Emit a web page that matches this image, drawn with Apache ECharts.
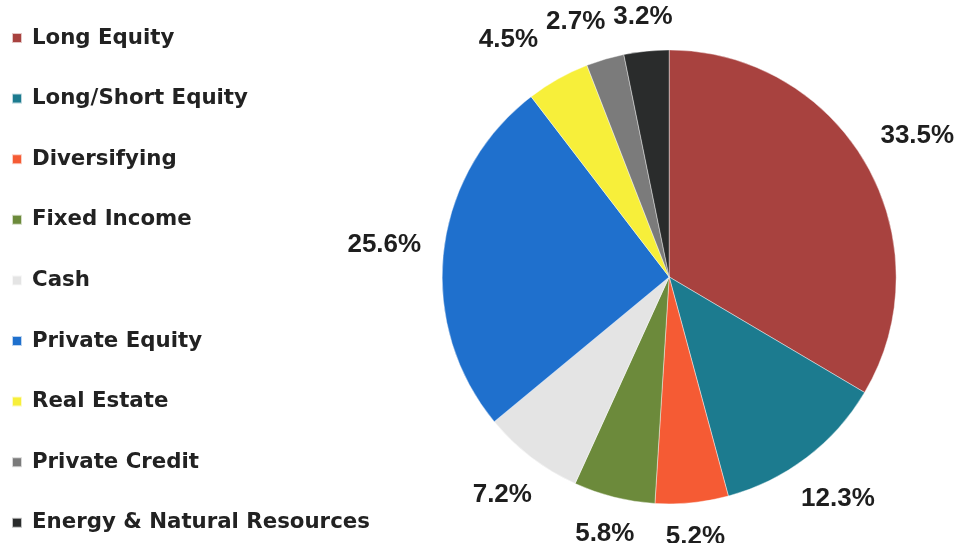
<!DOCTYPE html>
<html>
<head>
<meta charset="utf-8">
<title>Asset Allocation</title>
<script src="https://cdn.jsdelivr.net/npm/echarts@6/dist/echarts.min.js"></script>
<style>
  html, body { margin: 0; padding: 0; background: #ffffff; }
  #chart { width: 967px; height: 543px; }
</style>
</head>
<body>
<div id="chart"></div>
<script>
// Allocation by asset class (percent of total)
const categories = [
  'Long Equity',
  'Long/Short Equity',
  'Diversifying',
  'Fixed Income',
  'Cash',
  'Private Equity',
  'Real Estate',
  'Private Credit',
  'Energy & Natural Resources'
];
const allocation = [33.5, 12.3, 5.2, 5.8, 7.2, 25.6, 4.5, 2.7, 3.2];
const sliceColors = [
  '#a8423f', '#1c7b8f', '#f55b34', '#6c8a3b', '#e4e4e4',
  '#1f70cd', '#f7ef3a', '#7b7b7b', '#2a2c2c'
];

// Pie geometry
const PIE_CENTER = [0.692, 0.51];
const PIE_RADIUS = 227;
const LABEL_GAP = 22;
const LABEL_PAD = 8;

const chart = echarts.init(document.getElementById('chart'), null, { renderer: 'canvas' });

// Push a value label outward along its slice's bisector so the label box
// sits a fixed gap beyond the rim of the pie.
function outsidePosition(rect) {
  const cx = chart.getWidth() * PIE_CENTER[0];
  const cy = chart.getHeight() * PIE_CENTER[1];
  const lx = rect.x + rect.width / 2;
  const ly = rect.y + rect.height / 2;
  let dx = lx - cx, dy = ly - cy;
  const len = Math.sqrt(dx * dx + dy * dy) || 1;
  dx /= len; dy /= len;
  const half = (rect.width / 2) * Math.abs(dx) + (rect.height * 0.36) * Math.abs(dy);
  const dist = PIE_RADIUS + LABEL_GAP + half;
  return { x: cx + dx * dist, y: cy + dy * dist, w: rect.width, h: rect.height };
}

// Walk the labels counter-clockwise and slide any label that collides with
// its clockwise neighbour sideways, away from it.
function resolveOverlaps(boxes) {
  for (let i = boxes.length - 2; i >= 0; i--) {
    const a = boxes[i], b = boxes[i + 1];
    if (!a || !b) continue;
    const overlapY = (a.h * 0.75 + b.h * 0.75) / 2 - Math.abs(a.y - b.y);
    const overlapX = (a.w + b.w) / 2 - Math.abs(a.x - b.x);
    if (overlapY > 0 && overlapX > -LABEL_PAD) {
      const dir = a.x <= b.x ? -1 : 1;
      a.x += dir * (overlapX + LABEL_PAD);
    }
  }
  return boxes;
}

let placed = [];

function buildOption(layoutFn) {
  return {
    backgroundColor: '#ffffff',
    animation: false,
    color: sliceColors,
    legend: {
      orient: 'vertical',
      left: 6,
      top: 21,
      itemWidth: 10,
      itemHeight: 10,
      itemGap: 36.6,
      icon: 'rect',
      selectedMode: false,
      data: categories,
      textStyle: {
        fontFamily: 'DejaVu Sans',
        fontWeight: 'bold',
        fontSize: 21.3,
        lineHeight: 24,
        color: '#222222',
        padding: [0, 0, 0, 5]
      }
    },
    series: [{
      type: 'pie',
      center: [(PIE_CENTER[0] * 100) + '%', (PIE_CENTER[1] * 100) + '%'],
      radius: [0, PIE_RADIUS],
      startAngle: 90,
      clockwise: true,
      avoidLabelOverlap: false,
      silent: true,
      itemStyle: {
        borderColor: 'rgba(255,255,255,0.7)',
        borderWidth: 0.6
      },
      label: {
        show: true,
        position: 'inside',
        formatter: function (p) { return p.value.toFixed(1) + '%'; },
        fontFamily: 'Liberation Sans, Arial, sans-serif',
        fontWeight: 'bold',
        fontSize: 26,
        color: '#1e1e1e'
      },
      labelLine: { show: false },
      labelLayout: layoutFn,
      data: categories.map(function (name, i) {
        return { name: name, value: allocation[i] };
      })
    }]
  };
}

// First pass: measure every label and put it just outside the rim.
const measured = [];
chart.setOption(buildOption(function (params) {
  const box = outsidePosition(params.labelRect);
  measured[params.dataIndex] = box;
  return { x: box.x, y: box.y, align: 'center', verticalAlign: 'middle' };
}));

// Second pass: apply the collision-free positions.
placed = resolveOverlaps(measured.map(function (b) { return Object.assign({}, b); }));
chart.setOption(buildOption(function (params) {
  const box = placed[params.dataIndex];
  if (!box) return {};
  return { x: box.x, y: box.y, align: 'center', verticalAlign: 'middle' };
}), true);
</script>
</body>
</html>
